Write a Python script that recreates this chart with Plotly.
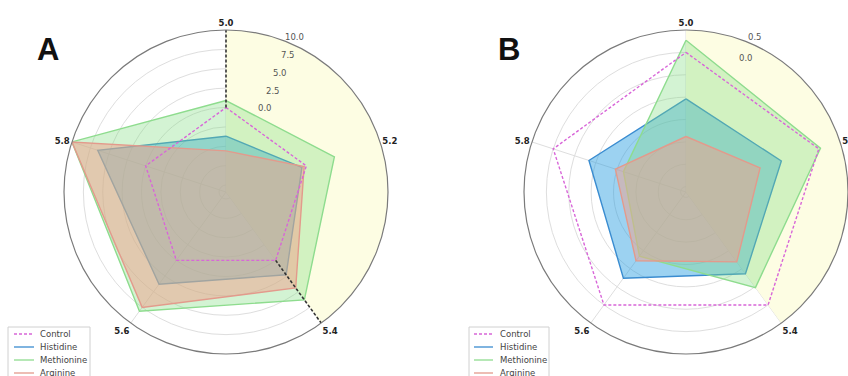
import math
import plotly.graph_objects as go

# ---- data -------------------------------------------------------------
CATEGORIES = ["5.0", "5.2", "5.4", "5.6", "5.8"]
SERIES = ["Control", "Histidine", "Methionine", "Arginine"]

A_CONTROL = [0.0, 0.0, 0.0, 0.0, 0.0]
A_HISTIDINE = [-3.7, -0.6, 2.3, 3.8, 6.5]
A_METHIONINE = [0.9, 3.8, 6.3, 8.1, 10.0]
A_ARGININE = [-5.6, -0.3, 4.4, 7.5, 10.0]

B_CONTROL = [0.0, 0.0, 0.0, 0.0, 0.0]
B_HISTIDINE = [-1.04, -0.88, -0.86, -0.74, -0.84]
B_METHIONINE = [0.27, 0.04, -0.48, -1.35, -1.65]
B_ARGININE = [-1.88, -1.38, -1.19, -1.22, -1.46]

A_RANGE = [-10.9, 10.0]
B_RANGE = [-3.12, 0.5]
A_GRID = [-10.0, -7.5, -5.0, -2.5, 0.0, 2.5, 5.0, 7.5, 10.0]
B_GRID = [-3.0, -2.5, -2.0, -1.5, -1.0, -0.5, 0.0, 0.5]
A_RLABELS = [0.0, 2.5, 5.0, 7.5, 10.0]
B_RLABELS = [0.0, 0.5]

# highlighted sector between two categories
SECTOR = ("5.0", "5.4")

# ---- styles -----------------------------------------------------------
W, H = 848, 376
R_PX = 162                     # polar radius in pixels
CY_PX = 192                    # polar centre, pixels from top
A_CX, B_CX = 226, 686          # polar centres, pixels from left
RLABEL_ANGLE = 22.5            # radial labels, degrees clockwise from top

LINE = {"Control": "#d866d8", "Histidine": "#3a8cd0",
        "Methionine": "#8edc8e", "Arginine": "#e39a8c"}
FILL = {"Histidine": "rgba(35,155,225,0.45)",
        "Methionine": "rgba(130,220,130,0.35)",
        "Arginine": "rgba(240,160,140,0.50)"}
GRID_COLOR = "#dedede"
SECTOR_COLOR = "#fdfde3"

theta_of = {c: 360.0 * i / len(CATEGORIES) for i, c in enumerate(CATEGORIES)}
THETA = [theta_of[c] for c in CATEGORIES]


def closed(vals):
    return list(vals) + [vals[0]]


def add_panel(fig, sub, values, rng, dashed_edges):
    t0, t1 = theta_of[SECTOR[0]], theta_of[SECTOR[1]]
    fig.add_trace(go.Barpolar(
        r=[rng[1] - rng[0]], base=rng[0], theta=[(t0 + t1) / 2], width=[t1 - t0],
        marker=dict(color=SECTOR_COLOR, line=dict(width=0)),
        showlegend=False, hoverinfo="skip", subplot=sub))
    for name in ["Histidine", "Methionine", "Arginine"]:
        fig.add_trace(go.Scatterpolar(
            r=closed(values[name]), theta=closed(THETA), mode="lines",
            fill="toself", fillcolor=FILL[name],
            line=dict(color=LINE[name], width=1.4),
            showlegend=False, subplot=sub))
    fig.add_trace(go.Scatterpolar(
        r=closed(values["Control"]), theta=closed(THETA), mode="lines",
        line=dict(color=LINE["Control"], width=1.4, dash="3px,2px"),
        showlegend=False, subplot=sub))
    if dashed_edges:
        for t in (t0, t1):
            fig.add_trace(go.Scatterpolar(
                r=[0.0, rng[1]], theta=[t, t], mode="lines",
                line=dict(color="#333333", width=1.6, dash="3px,2px"),
                showlegend=False, subplot=sub))


def polar(cx, rng, grid):
    return dict(
        domain=dict(x=[(cx - R_PX) / W, min(1.0, (cx + R_PX) / W)],
                    y=[(H - CY_PX - R_PX) / H, (H - CY_PX + R_PX) / H]),
        bgcolor="white",
        angularaxis=dict(
            rotation=90, direction="clockwise", tickmode="array",
            tickvals=THETA, ticktext=CATEGORIES, ticks="",
            showgrid=True, gridcolor=GRID_COLOR, gridwidth=1,
            showline=True, linecolor="#7a7a7a", linewidth=1.2,
            tickfont=dict(family="DejaVu Sans", size=8.5, color="#222",
                          weight="bold")),
        radialaxis=dict(
            range=rng, tickmode="array", tickvals=grid, showticklabels=False,
            showline=False, ticks="",
            showgrid=True, gridcolor=GRID_COLOR, gridwidth=1),
    )


fig = go.Figure()
add_panel(fig, "polar",
          {"Control": A_CONTROL, "Histidine": A_HISTIDINE,
           "Methionine": A_METHIONINE, "Arginine": A_ARGININE},
          A_RANGE, True)
add_panel(fig, "polar2",
          {"Control": B_CONTROL, "Histidine": B_HISTIDINE,
           "Methionine": B_METHIONINE, "Arginine": B_ARGININE},
          B_RANGE, False)

shapes, annotations = [], []


def px(x):
    return x / W


def py(y):
    return 1 - y / H


def radial_labels(cx, rng, labels):
    a = math.radians(RLABEL_ANGLE)
    for v in labels:
        rr = (v - rng[0]) / (rng[1] - rng[0]) * R_PX
        x = cx + rr * math.sin(a) + 7
        y = CY_PX - rr * math.cos(a) - 5.5
        annotations.append(dict(xref="paper", yref="paper", x=px(x), y=py(y),
                                xanchor="center", yanchor="middle", showarrow=False,
                                text=f"{v:.1f}",
                                font=dict(family="DejaVu Sans", size=8.5, color="#555")))


def legend(x_box, x_line, x_text):
    shapes.append(dict(type="rect", xref="paper", yref="paper",
                       x0=px(x_box[0]), x1=px(x_box[1]),
                       y0=py(392), y1=py(327),
                       line=dict(color="#d0d0d0", width=1),
                       fillcolor="rgba(255,255,255,0.85)", layer="above"))
    for i, name in enumerate(SERIES):
        yc = 334 + 13 * i
        shapes.append(dict(type="line", xref="paper", yref="paper",
                           x0=px(x_line[0]), x1=px(x_line[1]),
                           y0=py(yc), y1=py(yc), layer="above",
                           line=dict(color=LINE[name], width=1.3,
                                     dash="3px,2px" if name == "Control" else "solid")))
        annotations.append(dict(xref="paper", yref="paper", x=px(x_text), y=py(yc),
                                xanchor="left", yanchor="middle", showarrow=False,
                                text=name, font=dict(family="DejaVu Sans", size=8.5,
                                                     color="#444")))


radial_labels(A_CX, A_RANGE, A_RLABELS)
radial_labels(B_CX, B_RANGE, B_RLABELS)
legend((8, 90), (14, 34), 38)
legend((469, 549), (474, 493), 498)

for lbl, x in (("A", 35), ("B", 496)):
    annotations.append(dict(xref="paper", yref="paper", x=px(x), y=py(30),
                            xanchor="left", yanchor="top", showarrow=False,
                            text=f"<b>{lbl}</b>",
                            font=dict(family="Liberation Sans", size=31, color="#111")))

fig.update_layout(
    width=W, height=H, margin=dict(l=0, r=0, t=0, b=0),
    paper_bgcolor="white", showlegend=False,
    polar=polar(A_CX, A_RANGE, A_GRID),
    polar2=polar(B_CX, B_RANGE, B_GRID),
    shapes=shapes, annotations=annotations,
)

fig.write_html("out.html")
